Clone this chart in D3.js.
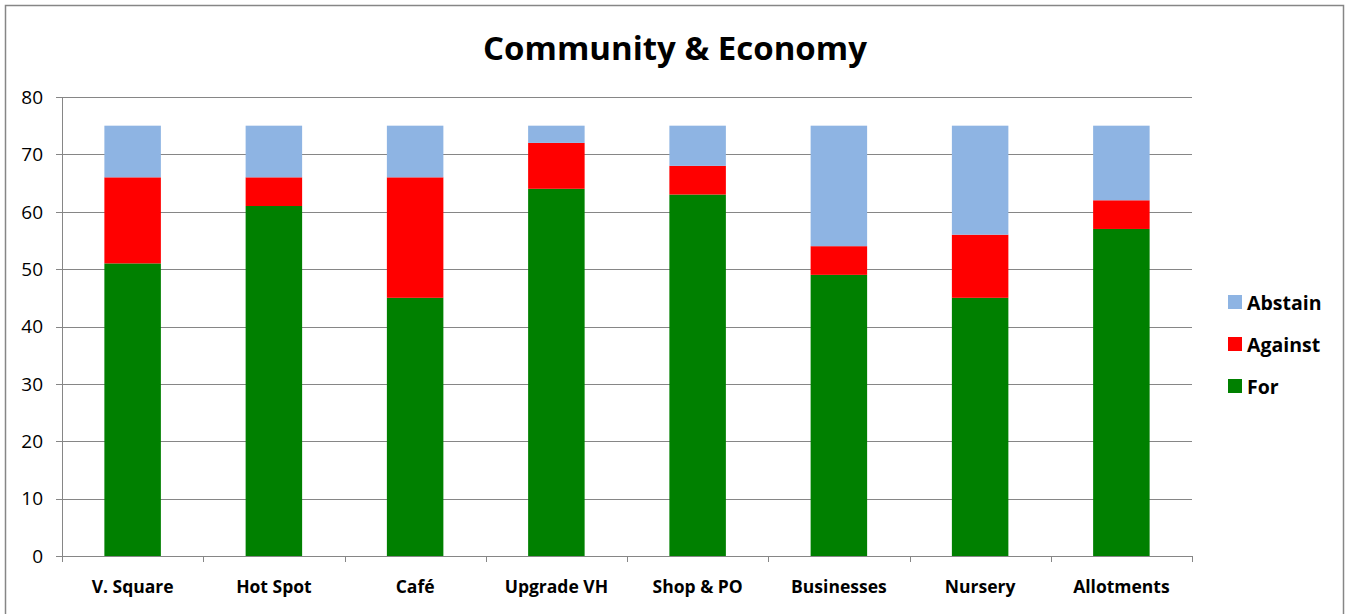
<!DOCTYPE html>
<html>
<head>
<meta charset="utf-8">
<script src="https://cdn.jsdelivr.net/npm/d3@7"></script>
<style>
  body { margin: 0; background: #fff; }
  text { font-family: "Open Sans", Lato, sans-serif; fill: #000; }
</style>
</head>
<body>
<div id="chart"></div>
<script>
// chart values
const categories = ['V. Square', 'Hot Spot', 'Café', 'Upgrade VH', 'Shop & PO', 'Businesses', 'Nursery', 'Allotments'];
const forVotes = [51, 61, 45, 64, 63, 49, 45, 57];
const againstVotes = [15, 5, 21, 8, 5, 5, 11, 5];
const abstainVotes = [9, 9, 9, 3, 7, 21, 19, 13];
const seriesNames = ['For', 'Against', 'Abstain'];
const seriesColors = ['#008000', '#ff0000', '#8eb4e3'];
const yTicks = [0, 10, 20, 30, 40, 50, 60, 70, 80];

const width = 1346, height = 614;
const margin = { left: 62, right: 154, top: 97, bottom: 58 };

const svg = d3.select('#chart').append('svg')
    .attr('width', width)
    .attr('height', height);

// outer frame
svg.append('rect')
    .attr('x', 5.5).attr('y', 5.5)
    .attr('width', 1338).attr('height', 620)
    .attr('fill', 'none')
    .attr('stroke', '#868686')
    .attr('stroke-width', 1.5);

// build rows for the stack
const rows = categories.map((c, i) => ({
    cat: c, For: forVotes[i], Against: againstVotes[i], Abstain: abstainVotes[i]
}));
const stacked = d3.stack().keys(seriesNames)(rows);

const x = d3.scaleBand()
    .domain(categories)
    .range([margin.left, width - margin.right])
    .paddingInner(0.6)
    .paddingOuter(0.3);

const y = d3.scaleLinear()
    .domain([0, 80])
    .range([height - margin.bottom, margin.top]);

// gridlines
svg.append('g')
    .selectAll('line')
    .data(yTicks)
    .enter().append('line')
    .attr('x1', margin.left - 6)
    .attr('x2', width - margin.right)
    .attr('y1', d => Math.round(y(d)) + 0.5)
    .attr('y2', d => Math.round(y(d)) + 0.5)
    .attr('stroke', '#868686')
    .attr('stroke-width', 1);

// y tick labels
svg.append('g')
    .selectAll('text')
    .data(yTicks)
    .enter().append('text')
    .attr('x', 43)
    .attr('y', d => y(d))
    .attr('dy', '0.36em')
    .attr('text-anchor', 'end')
    .style('font-size', '19px')
    .text(d => d);

// bars
svg.append('g')
    .selectAll('g')
    .data(stacked)
    .enter().append('g')
    .attr('fill', (d, i) => seriesColors[i])
    .selectAll('rect')
    .data(d => d)
    .enter().append('rect')
    .attr('x', d => x(d.data.cat))
    .attr('width', x.bandwidth())
    .attr('y', d => y(d[1]))
    .attr('height', d => y(d[0]) - y(d[1]));

// y axis line
svg.append('line')
    .attr('x1', margin.left + 0.5).attr('x2', margin.left + 0.5)
    .attr('y1', margin.top).attr('y2', height - margin.bottom + 6)
    .attr('stroke', '#868686');

// x axis labels
const xAxis = d3.axisBottom(x).tickSize(0).tickPadding(25);
const gx = svg.append('g')
    .attr('transform', `translate(0,${height - margin.bottom})`)
    .call(xAxis);
gx.select('.domain').remove();
gx.selectAll('text')
    .style('font-size', '17.5px')
    .style('font-weight', 'bold')
    .style('font-family', '"Open Sans", sans-serif')
    .attr('fill', '#000');

// x axis line and ticks between categories
const boundaries = d3.range(categories.length + 1).map(i => margin.left + i * (width - margin.right - margin.left) / categories.length);
svg.append('line')
    .attr('x1', margin.left).attr('x2', width - margin.right)
    .attr('y1', height - margin.bottom + 0.5).attr('y2', height - margin.bottom + 0.5)
    .attr('stroke', '#868686');
svg.append('g')
    .selectAll('line')
    .data(boundaries)
    .enter().append('line')
    .attr('x1', d => Math.round(d) + 0.5).attr('x2', d => Math.round(d) + 0.5)
    .attr('y1', height - margin.bottom).attr('y2', height - margin.bottom + 6)
    .attr('stroke', '#868686');

// title
svg.append('text')
    .attr('x', 675)
    .attr('y', 60)
    .attr('text-anchor', 'middle')
    .style('font-size', '33px')
    .style('font-weight', 'bold')
    .text('Community & Economy');

// legend, Abstain on top
const legendOrder = [2, 1, 0];
const legend = svg.append('g')
    .selectAll('g')
    .data(legendOrder)
    .enter().append('g')
    .attr('transform', (d, i) => `translate(1228,${302 + i * 42})`);
legend.append('rect')
    .attr('y', -7)
    .attr('width', 14).attr('height', 14)
    .attr('fill', d => seriesColors[d]);
legend.append('text')
    .attr('x', 19)
    .attr('y', 8)
    .style('font-size', '19.5px')
    .style('font-weight', 'bold')
    .text(d => seriesNames[d]);
</script>
</body>
</html>
